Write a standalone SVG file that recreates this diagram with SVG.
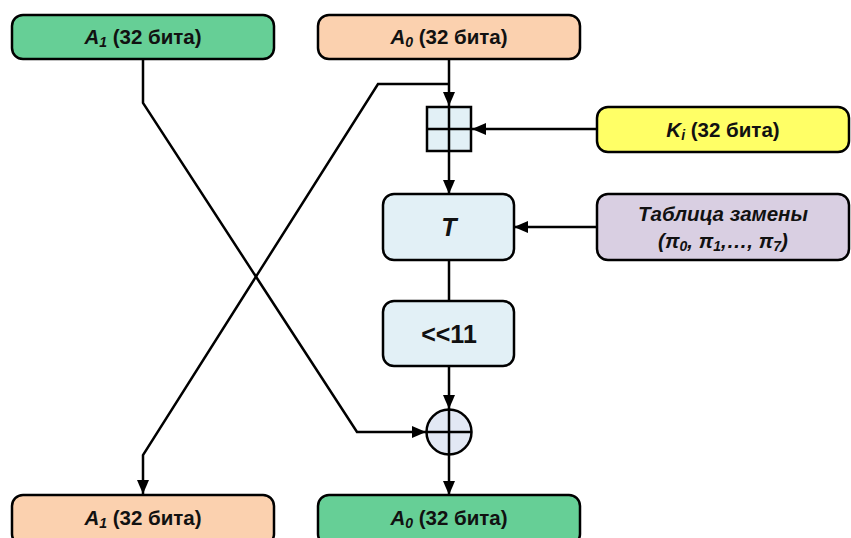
<svg xmlns="http://www.w3.org/2000/svg" width="851" height="538" viewBox="0 0 851 538">
<style>
.box{stroke:#000;stroke-width:2.5}
.t{font-family:"Liberation Sans",Arial,sans-serif;font-weight:bold;font-size:20.5px;fill:#111;text-anchor:middle}
.i{font-style:italic}
.s{font-size:14px;font-style:italic}
.ln{fill:none;stroke:#000;stroke-width:2.5}
</style>
<defs>
<marker id="a" viewBox="0 0 14 12" refX="14" refY="6" markerWidth="14" markerHeight="12" markerUnits="userSpaceOnUse" orient="auto">
<path d="M0,0 L14,6 L0,12 Z" fill="#000"/>
</marker>
</defs>
<g id="connectors">
<path class="ln" d="M449,59 V106" marker-end="url(#a)"/>
<path class="ln" d="M449,84 H378 L143,455 V494" marker-end="url(#a)"/>
<path class="ln" d="M143,59 V103 L357,432 H426" marker-end="url(#a)"/>
<path class="ln" d="M597,129 H472" marker-end="url(#a)"/>
<path class="ln" d="M449,151 V194" marker-end="url(#a)"/>
<path class="ln" d="M597,227 H514" marker-end="url(#a)"/>
<path class="ln" d="M449,260 V301"/>
<path class="ln" d="M449,366 V409" marker-end="url(#a)"/>
<path class="ln" d="M449,455 V495" marker-end="url(#a)"/>
</g>
<g id="A1_top">
<rect class="box" x="12" y="15" width="262" height="44" rx="11" fill="#66CF96"/>
<text class="t" x="143" y="44"><tspan class="i">A</tspan><tspan class="s" dy="3">1</tspan><tspan dy="-3"> (32 бита)</tspan></text>
</g>
<g id="A0_top">
<rect class="box" x="318" y="15" width="262" height="44" rx="11" fill="#FBD1AF"/>
<text class="t" x="449" y="44"><tspan class="i">A</tspan><tspan class="s" dy="3">0</tspan><tspan dy="-3"> (32 бита)</tspan></text>
</g>
<g id="Ki">
<rect class="box" x="597" y="107" width="252" height="45" rx="11" fill="#FFFF66"/>
<text class="t" x="723" y="137"><tspan class="i">K</tspan><tspan class="s" dy="3">i</tspan><tspan dy="-3"> (32 бита)</tspan></text>
</g>
<g id="add">
<rect class="box" x="427" y="107" width="44" height="44" fill="#E2F0F6"/>
<path class="ln" d="M449,107 V151 M427,129 H471"/>
</g>
<g id="T">
<rect class="box" x="383" y="194" width="131" height="66" rx="11" fill="#E2F0F6"/>
<text class="t i" x="449" y="236" style="font-size:25px">T</text>
</g>
<g id="table">
<rect class="box" x="597" y="194" width="252" height="66" rx="11" fill="#D9CFE2"/>
<text class="t i" x="723" y="221">Таблица замены</text>
<text class="t i" x="723" y="248">(π<tspan class="s" dy="3">0</tspan><tspan dy="-3">, π</tspan><tspan class="s" dy="3">1</tspan><tspan dy="-3">,…, π</tspan><tspan class="s" dy="3">7</tspan><tspan dy="-3">)</tspan></text>
</g>
<g id="shift">
<rect class="box" x="383" y="301" width="131" height="65" rx="11" fill="#E2F0F6"/>
<text class="t" x="449" y="343" style="font-size:25px">&lt;&lt;11</text>
</g>
<g id="xor">
<circle class="box" cx="449" cy="432" r="22.5" fill="#E2E8F4"/>
<path class="ln" d="M449,409.5 V454.5 M426.5,432 H471.5"/>
</g>
<g id="A1_bottom">
<rect class="box" x="12" y="495" width="262" height="50" rx="11" fill="#FBD1AF"/>
<text class="t" x="143" y="525"><tspan class="i">A</tspan><tspan class="s" dy="3">1</tspan><tspan dy="-3"> (32 бита)</tspan></text>
</g>
<g id="A0_bottom">
<rect class="box" x="318" y="495" width="262" height="50" rx="11" fill="#66CF96"/>
<text class="t" x="449" y="525"><tspan class="i">A</tspan><tspan class="s" dy="3">0</tspan><tspan dy="-3"> (32 бита)</tspan></text>
</g>
</svg>
